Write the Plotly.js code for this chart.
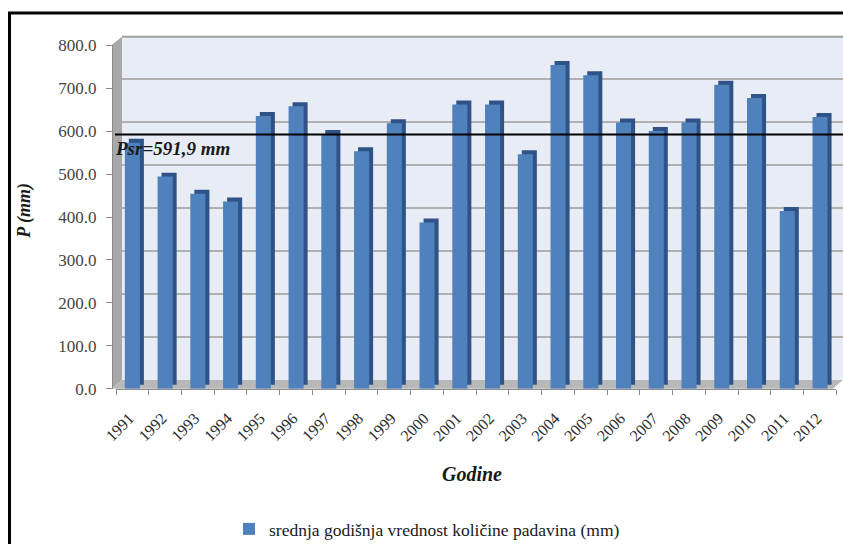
<!DOCTYPE html>
<html><head><meta charset="utf-8">
<script src="https://cdn.plot.ly/plotly-3.0.1.min.js"></script>
<style>html,body{margin:0;padding:0;background:#fff}</style>
</head><body><div id="chart" style="width:843px;height:547px"></div>
<script>
// ---- data ----
const years = ['1991','1992','1993','1994','1995','1996','1997','1998','1999','2000','2001','2002','2003','2004','2005','2006','2007','2008','2009','2010','2011','2012'];
const precip = [573, 494, 454, 436, 635, 658, 593, 553, 618, 387, 662, 662, 546, 754, 730, 620, 600, 620, 708, 677, 414, 633];
const meanValue = 591.9;
const yTicks = [0, 100, 200, 300, 400, 500, 600, 700, 800];
const seriesName = 'srednja godišnja vrednost količine padavina (mm)';
const yTitle = 'P (mm)';
const xTitle = 'Godine';

// ---- layout helpers (pixel -> paper) ----
const W = 843, H = 547;
const fx = p => p / W;
const fy = p => 1 - p / H;
const path = pts => pts.map((p, i) => (i ? 'L' : 'M') + fx(p[0]).toFixed(5) + ',' + fy(p[1]).toFixed(5)).join(' ') + ' Z';
const font = '"Liberation Serif", "Times New Roman", serif';

const traces = [
  { // back wall helper (keeps wall axes alive)
    type: 'scatter', mode: 'markers', x: years, y: precip, xaxis: 'x', yaxis: 'y',
    marker: {opacity: 0}, showlegend: false, hoverinfo: 'skip'
  },
  { // depth / side of the columns
    type: 'bar', x: years, y: precip, xaxis: 'x2', yaxis: 'y2', width: 0.46,
    marker: {color: '#2f5386', line: {width: 0}}, showlegend: false, hoverinfo: 'skip'
  },
  { // front face of the columns
    type: 'bar', x: years, y: precip, xaxis: 'x3', yaxis: 'y3', width: 0.46, name: seriesName,
    marker: {color: '#4f81bd', line: {width: 0}}
  }
];

const hiddenX = {type: 'category', range: [-0.5, years.length - 0.5], showgrid: false, showline: false, zeroline: false, ticks: '', showticklabels: false, fixedrange: true};

const layout = {
  width: W, height: H,
  margin: {l: 0, r: 0, t: 0, b: 0},
  paper_bgcolor: '#ffffff', plot_bgcolor: 'rgba(0,0,0,0)',
  font: {family: font, color: '#333333'},
  barmode: 'overlay',
  showlegend: true,
  xaxis: Object.assign({}, hiddenX, {domain: [fx(122), fx(843)], anchor: 'y'}),
  yaxis: {domain: [fy(382), fy(36.4)], anchor: 'x', range: [0, 800], tickvals: yTicks, showgrid: true, gridcolor: '#b0b0b0', gridwidth: 1.5, zeroline: false, showline: false, showticklabels: false, ticks: ''},
  xaxis2: Object.assign({}, hiddenX, {domain: [fx(120), fx(840.4)], anchor: 'y2'}),
  yaxis2: {domain: [fy(387), fy(41.4)], anchor: 'x2', range: [0, 800], showgrid: false, zeroline: false, showline: false, showticklabels: false, ticks: ''},
  xaxis3: {domain: [fx(116), fx(836.4)], anchor: 'y3', type: 'category', range: [-0.5, years.length - 0.5],
    showline: true, linecolor: '#8c8c8c', linewidth: 1, ticks: 'outside', tickson: 'boundaries', ticklen: 5, tickcolor: '#8c8c8c',
    tickangle: -45, ticklabelshift: -3, ticklabelstandoff: 13, tickfont: {family: font, size: 16, color: '#2b2b2b'}, showgrid: false, zeroline: false},
  yaxis3: {domain: [fy(391), fy(45.4)], anchor: 'free', position: fx(112), range: [0, 800], tickvals: yTicks, tickformat: '.1f',
    ticks: 'outside', ticklen: 6, tickcolor: '#8c8c8c', showline: true, linecolor: '#8c8c8c', showgrid: false, zeroline: false,
    ticklabelstandoff: 6, tickfont: {family: font, size: 17, color: '#444444'}},
  legend: {orientation: 'h', x: fx(229), y: fy(514), xanchor: 'left', yanchor: 'top', bgcolor: 'rgba(0,0,0,0)',
    font: {family: font, size: 17.5, color: '#1a1a1a'}},
  shapes: [
    {type: 'rect', xref: 'paper', yref: 'paper', x0: fx(122), x1: 1, y0: fy(382), y1: fy(37), fillcolor: '#e8ecf5', line: {width: 0}, layer: 'below'},
    {type: 'path', xref: 'paper', yref: 'paper', path: path([[112, 391], [112, 45], [122, 37], [122, 382]]), fillcolor: '#a8a8a8', line: {width: 0}, layer: 'below'},
    {type: 'path', xref: 'paper', yref: 'paper', path: path([[112, 391], [833, 391], [843, 382], [122, 382]]), fillcolor: '#b8b8b8', line: {width: 0}, layer: 'below'},
    {type: 'line', xref: 'paper', yref: 'paper', x0: fx(122), x1: 1, y0: fy(37), y1: fy(37), line: {color: '#a0a0a0', width: 2}, layer: 'below'},
    {type: 'line', xref: 'paper', yref: 'y3', x0: fx(115), x1: 1, y0: meanValue, y1: meanValue, line: {color: '#000000', width: 2}, layer: 'above'},
    {type: 'line', xref: 'paper', yref: 'paper', x0: fx(9.5), x1: fx(9.5), y0: fy(12), y1: 0, line: {color: '#000000', width: 3}, layer: 'above'},
    {type: 'line', xref: 'paper', yref: 'paper', x0: fx(8), x1: 1, y0: fy(13), y1: fy(13), line: {color: '#000000', width: 3}, layer: 'above'}
  ],
  annotations: [
    {xref: 'paper', yref: 'y3', x: fx(113), y: meanValue, xanchor: 'left', yanchor: 'top', yshift: -1, showarrow: false,
     text: '<b><i>Psr=' + meanValue.toFixed(1).replace('.', ',') + ' mm</i></b>', font: {family: font, size: 19, color: '#1a1a1a'}},
    {xref: 'paper', yref: 'paper', x: fx(25), y: fy(212), xanchor: 'center', yanchor: 'middle', textangle: -90, showarrow: false,
     text: '<b><i>' + yTitle + '</i></b>', font: {family: font, size: 18, color: '#1a1a1a'}},
    {xref: 'paper', yref: 'paper', x: fx(472), y: fy(477), xanchor: 'center', yanchor: 'middle', showarrow: false,
     text: '<b><i>' + xTitle + '</i></b>', font: {family: font, size: 20, color: '#1a1a1a'}}
  ]
};

Plotly.newPlot('chart', traces, layout, {displayModeBar: false, staticPlot: true});
</script>
</body></html>
